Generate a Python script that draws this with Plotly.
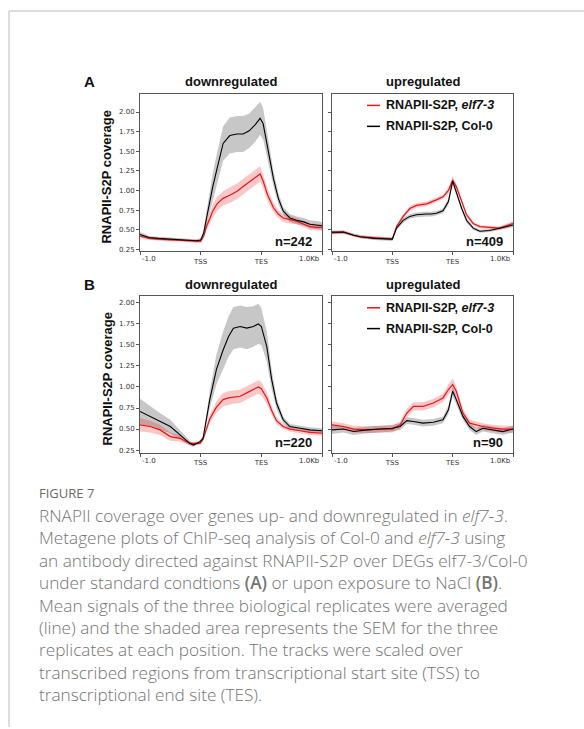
import plotly.graph_objects as go

W, H = 584, 729

# ---------------- data ----------------
# x: 0 = -1.0 kb, 1 = TSS, 2 = TES, 3 = +1.0 kb
x_tickvals = [0, 1, 2, 3]
x_ticklabels = ["-1.0", "TSS", "TES", "1.0Kb"]
y_tickvals = [0.25, 0.50, 0.75, 1.00, 1.25, 1.50, 1.75, 2.00]

series_names = ["RNAPII-S2P, <i>elf7-3</i>", "RNAPII-S2P, Col-0"]
panel_titles = ["downregulated", "upregulated"]
panel_letters = ["A", "B"]
n_labels = ["n=242", "n=409", "n=220", "n=90"]

# Panel A, downregulated
pos_A_down = [0, 0.15, 0.3, 0.5, 0.65, 0.8, 0.93, 1.0, 1.05, 1.1, 1.15, 1.2, 1.27, 1.37, 1.48, 1.6,
              1.7, 1.8, 1.9, 1.98, 2.03, 2.1, 2.2, 2.28, 2.36, 2.47, 2.58, 2.7, 2.8, 2.9, 3.0]
A_down_col0 = [0.44, 0.40, 0.39, 0.38, 0.38, 0.37, 0.36, 0.37, 0.46, 0.66, 0.86, 1.05, 1.28, 1.60, 1.70, 1.72,
               1.72, 1.76, 1.84, 1.92, 1.85, 1.55, 1.15, 0.90, 0.74, 0.65, 0.62, 0.60, 0.57, 0.56, 0.55]
A_down_col0_sem = [0.03, 0.02, 0.02, 0.02, 0.02, 0.02, 0.02, 0.02, 0.04, 0.09, 0.14, 0.17, 0.20, 0.22, 0.23, 0.23,
                   0.23, 0.22, 0.22, 0.21, 0.20, 0.15, 0.10, 0.07, 0.05, 0.05, 0.05, 0.05, 0.05, 0.05, 0.05]
A_down_elf = [0.42, 0.39, 0.38, 0.37, 0.37, 0.36, 0.35, 0.35, 0.42, 0.55, 0.64, 0.74, 0.83, 0.90, 0.94, 0.99,
              1.05, 1.11, 1.17, 1.21, 1.12, 0.95, 0.78, 0.70, 0.65, 0.63, 0.61, 0.57, 0.54, 0.53, 0.53]
A_down_elf_sem = [0.03, 0.02, 0.02, 0.02, 0.02, 0.02, 0.02, 0.02, 0.03, 0.05, 0.07, 0.08, 0.09, 0.09, 0.10, 0.10,
                  0.10, 0.10, 0.10, 0.10, 0.09, 0.08, 0.06, 0.05, 0.05, 0.05, 0.04, 0.04, 0.04, 0.04, 0.04]

# Panel A, upregulated
pos_A_up = [0, 0.19, 0.36, 0.47, 0.69, 0.91, 1.0, 1.07, 1.18, 1.29, 1.4, 1.57, 1.65, 1.73, 1.84, 1.93,
            2.0, 2.06, 2.15, 2.23, 2.34, 2.45, 2.61, 2.78, 3.0]
A_up_col0 = [0.47, 0.47, 0.43, 0.41, 0.39, 0.38, 0.38, 0.52, 0.62, 0.67, 0.69, 0.70, 0.70, 0.71, 0.74, 0.86,
             1.12, 0.98, 0.77, 0.62, 0.52, 0.48, 0.49, 0.52, 0.56]
A_up_col0_sem = [0.02, 0.02, 0.02, 0.02, 0.02, 0.02, 0.02, 0.02, 0.03, 0.03, 0.03, 0.03, 0.03, 0.03, 0.03, 0.04,
                 0.05, 0.04, 0.03, 0.03, 0.02, 0.02, 0.02, 0.02, 0.03]
A_up_elf = [0.46, 0.47, 0.43, 0.41, 0.40, 0.39, 0.38, 0.54, 0.67, 0.77, 0.81, 0.83, 0.86, 0.88, 0.92, 1.00,
            1.13, 1.05, 0.86, 0.69, 0.58, 0.54, 0.53, 0.52, 0.58]
A_up_elf_sem = [0.02, 0.02, 0.02, 0.02, 0.02, 0.02, 0.02, 0.02, 0.03, 0.03, 0.03, 0.03, 0.03, 0.03, 0.03, 0.04,
                0.05, 0.04, 0.03, 0.03, 0.02, 0.02, 0.02, 0.02, 0.03]

# Panel B, downregulated
pos_B_down = [0, 0.165, 0.33, 0.5, 0.66, 0.82, 0.88, 0.99, 1.04, 1.15, 1.26, 1.37, 1.46, 1.54, 1.65, 1.76,
              1.87, 1.95, 2.0, 2.09, 2.17, 2.25, 2.36, 2.47, 2.64, 2.8, 3.0]
B_down_col0 = [0.71, 0.65, 0.59, 0.53, 0.43, 0.33, 0.31, 0.35, 0.39, 0.85, 1.21, 1.44, 1.60, 1.70, 1.72, 1.70,
               1.72, 1.75, 1.72, 1.48, 1.09, 0.81, 0.61, 0.53, 0.51, 0.49, 0.48]
B_down_col0_sem = [0.15, 0.12, 0.10, 0.08, 0.05, 0.03, 0.02, 0.02, 0.03, 0.10, 0.18, 0.22, 0.24, 0.25, 0.25, 0.25,
                   0.24, 0.24, 0.22, 0.18, 0.12, 0.07, 0.04, 0.03, 0.03, 0.03, 0.03]
B_down_elf = [0.55, 0.53, 0.49, 0.41, 0.39, 0.33, 0.33, 0.33, 0.38, 0.62, 0.76, 0.85, 0.87, 0.88, 0.89, 0.93,
              0.97, 1.00, 0.98, 0.87, 0.72, 0.60, 0.53, 0.50, 0.48, 0.46, 0.45]
B_down_elf_sem = [0.08, 0.07, 0.06, 0.05, 0.04, 0.02, 0.02, 0.02, 0.02, 0.05, 0.07, 0.08, 0.08, 0.08, 0.08, 0.08,
                  0.08, 0.08, 0.08, 0.07, 0.05, 0.04, 0.03, 0.03, 0.03, 0.03, 0.03]

# Panel B, upregulated
pos_B_up = [0, 0.19, 0.36, 0.58, 0.8, 1.0, 1.13, 1.24, 1.35, 1.51, 1.68, 1.84, 1.93, 2.0, 2.06, 2.17,
            2.28, 2.39, 2.5, 2.67, 2.83, 3.0]
B_up_col0 = [0.49, 0.50, 0.47, 0.49, 0.50, 0.51, 0.53, 0.60, 0.59, 0.57, 0.58, 0.61, 0.73, 0.95, 0.85, 0.65,
             0.53, 0.47, 0.51, 0.49, 0.47, 0.50]
B_up_col0_sem = [0.05, 0.04, 0.04, 0.04, 0.04, 0.04, 0.04, 0.04, 0.04, 0.04, 0.04, 0.04, 0.05, 0.06, 0.05, 0.04,
                 0.04, 0.04, 0.04, 0.04, 0.04, 0.04]
B_up_elf = [0.55, 0.53, 0.50, 0.49, 0.50, 0.50, 0.55, 0.69, 0.77, 0.77, 0.81, 0.87, 0.97, 1.03, 0.95, 0.69,
            0.57, 0.55, 0.53, 0.51, 0.50, 0.50]
B_up_elf_sem = [0.04, 0.04, 0.04, 0.04, 0.04, 0.04, 0.04, 0.05, 0.05, 0.05, 0.05, 0.05, 0.06, 0.07, 0.06, 0.05,
                0.04, 0.04, 0.04, 0.04, 0.04, 0.04]

caption_label = "FIGURE 7"
caption_lines = [
    "RNAPII coverage over genes up- and downregulated in <i>elf7-3</i>.",
    "Metagene plots of ChIP-seq analysis of Col-0 and <i>elf7-3</i> using",
    "an antibody directed against RNAPII-S2P over DEGs elf7-3/Col-0",
    "under standard condtions <span style=\"font-weight:600\">(A)</span> or upon exposure to NaCl "
    "<span style=\"font-weight:600\">(B)</span>.",
    "Mean signals of the three biological replicates were averaged",
    "(line) and the shaded area represents the SEM for the three",
    "replicates at each position. The tracks were scaled over",
    "transcribed regions from transcriptional start site (TSS) to",
    "transcriptional end site (TES).",
]

# ---------------- styling / layout ----------------
RED = "#e8161b"
RED_BAND = "rgba(235,40,40,0.26)"
BLACK = "#000000"
GREY_BAND = "rgba(0,0,0,0.22)"
AX_COL = "#555555"

def px(x):
    return x / W

def py(y):
    return 1 - y / H

col_dom = [(px(140), px(322)), (px(332), px(513))]
row_dom = [(py(252), py(94)), (py(454), py(297))]
y_ranges = [[0.225, 2.233], [0.218, 2.08]]

panels = [
    (0, 0, pos_A_down, A_down_elf, A_down_elf_sem, A_down_col0, A_down_col0_sem),
    (0, 1, pos_A_up, A_up_elf, A_up_elf_sem, A_up_col0, A_up_col0_sem),
    (1, 0, pos_B_down, B_down_elf, B_down_elf_sem, B_down_col0, B_down_col0_sem),
    (1, 1, pos_B_up, B_up_elf, B_up_elf_sem, B_up_col0, B_up_col0_sem),
]

fig = go.Figure()
annotations = []
shapes = []
layout_axes = {}

tick_font = dict(family="DejaVu Sans", size=7, color="#333333")
bold_font = "Liberation Sans"

for i, (r, c, xs, elf, elf_sem, col, col_sem) in enumerate(panels):
    k = i + 1
    xa = "x" if k == 1 else f"x{k}"
    ya = "y" if k == 1 else f"y{k}"
    xname = "xaxis" if k == 1 else f"xaxis{k}"
    yname = "yaxis" if k == 1 else f"yaxis{k}"

    for mean, sem, band in ((col, col_sem, GREY_BAND), (elf, elf_sem, RED_BAND)):
        upper = [m + s for m, s in zip(mean, sem)]
        lower = [m - s for m, s in zip(mean, sem)]
        fig.add_trace(go.Scatter(
            x=list(xs) + list(xs)[::-1], y=upper + lower[::-1],
            fill="toself", fillcolor=band, line=dict(width=0),
            mode="lines", hoverinfo="skip", showlegend=False, xaxis=xa, yaxis=ya))
    fig.add_trace(go.Scatter(x=xs, y=elf, mode="lines", line=dict(color=RED, width=1.2),
                             showlegend=False, xaxis=xa, yaxis=ya))
    fig.add_trace(go.Scatter(x=xs, y=col, mode="lines", line=dict(color=BLACK, width=1.1),
                             showlegend=False, xaxis=xa, yaxis=ya))

    layout_axes[xname] = dict(
        domain=list(col_dom[c]), range=[0, 3], anchor=ya,
        tickvals=x_tickvals, ticktext=["", x_ticklabels[1], x_ticklabels[2], ""],
        ticks="outside", ticklen=3, tickwidth=1, tickcolor=AX_COL,
        tickfont=tick_font, showgrid=False, zeroline=False,
        showline=True, linecolor=AX_COL, linewidth=1, mirror=True,
    )
    layout_axes[yname] = dict(
        domain=list(row_dom[r]), range=y_ranges[r], anchor=xa,
        tickvals=y_tickvals, tickformat=".2f", showticklabels=(c == 0),
        ticks="outside", ticklen=3, tickwidth=1, tickcolor=AX_COL,
        tickfont=tick_font, showgrid=False, zeroline=False,
        showline=True, linecolor=AX_COL, linewidth=1, mirror=True,
    )

    # end tick labels aligned like the original (left / right)
    annotations.append(dict(text=x_ticklabels[0], x=0, y=0, xref=f"{xa} domain", yref=f"{ya} domain",
                            xanchor="left", yanchor="middle", yshift=-8, showarrow=False, font=tick_font))
    annotations.append(dict(text=x_ticklabels[3], x=1, y=0, xref=f"{xa} domain", yref=f"{ya} domain",
                            xanchor="right", yanchor="middle", yshift=-8, showarrow=False, font=tick_font))
    # n label
    annotations.append(dict(text=f"<b>{n_labels[i]}</b>", x=1, y=0, xref=f"{xa} domain", yref=f"{ya} domain",
                            xanchor="right", yanchor="middle", xshift=-8, yshift=10, showarrow=False,
                            font=dict(family=bold_font, size=13, color="#111111")))
    # panel title
    annotations.append(dict(text=f"<b>{panel_titles[c]}</b>", x=0.5, y=1, xref=f"{xa} domain",
                            yref=f"{ya} domain", xanchor="center", yanchor="middle", yshift=12,
                            showarrow=False, font=dict(family=bold_font, size=13, color="#111111")))
    if c == 0:
        annotations.append(dict(text="<b>RNAPII-S2P coverage</b>", x=px(107), y=0.5, xref="paper",
                                yref=f"{ya} domain", textangle=-90, xanchor="center", yanchor="middle",
                                yshift=-5, showarrow=False,
                                font=dict(family=bold_font, size=13, color="#111111")))
        annotations.append(dict(text=f"<b>{panel_letters[r]}</b>", x=px(89), y=1, xref="paper",
                                yref=f"{ya} domain", xanchor="center", yanchor="middle", yshift=12,
                                showarrow=False, font=dict(family=bold_font, size=15, color="#111111")))
    else:
        # legend drawn inside the right panel
        for j, (name, colr) in enumerate(zip(series_names, (RED, BLACK))):
            yy = 1 - (11.7 + 21 * j) / 158
            shapes.append(dict(type="line", xref=f"{xa} domain", yref=f"{ya} domain",
                               x0=(367 - 332) / 181, x1=(380 - 332) / 181, y0=yy, y1=yy,
                               line=dict(color=colr, width=1.5)))
            annotations.append(dict(text=f"<b>{name}</b>", x=(384 - 332) / 181, y=yy, xref=f"{xa} domain",
                                    yref=f"{ya} domain", xanchor="left", yanchor="middle", showarrow=False,
                                    font=dict(family=bold_font, size=12.5, color="#111111")))

# caption
cap_font = "Open Sans"
annotations.append(dict(text=caption_label, x=px(37), y=py(494), xref="paper", yref="paper",
                        xanchor="left", yanchor="middle", showarrow=False,
                        font=dict(family=cap_font, size=13, color="#6a6a6a")))
for j, line in enumerate(caption_lines):
    annotations.append(dict(text=line, x=px(37), y=py(516.7 + 22.5 * j), xref="paper", yref="paper",
                            xanchor="left", yanchor="middle", showarrow=False,
                            font=dict(family=cap_font, size=17.2, color="#747474", weight=300)))

# page frame (top and left border)
shapes.append(dict(type="line", xref="paper", yref="paper", x0=px(9), x1=px(9), y0=0, y1=py(11),
                   line=dict(color="#dddddd", width=2)))
shapes.append(dict(type="line", xref="paper", yref="paper", x0=px(9), x1=1, y0=py(11), y1=py(11),
                   line=dict(color="#dddddd", width=2)))

fig.update_layout(
    width=W, height=H, margin=dict(l=0, r=0, t=0, b=0),
    paper_bgcolor="white", plot_bgcolor="white",
    showlegend=False, annotations=annotations, shapes=shapes,
    **layout_axes,
)

fig.write_html("out.html")
